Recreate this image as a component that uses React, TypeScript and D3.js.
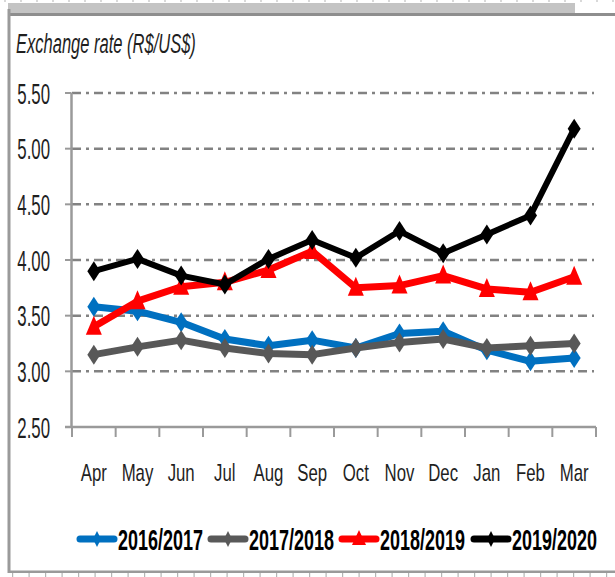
import React from 'react';
import * as d3 from 'd3';

const months = ['Apr', 'May', 'Jun', 'Jul', 'Aug', 'Sep', 'Oct', 'Nov', 'Dec', 'Jan', 'Feb', 'Mar'];
const yTicks = [2.5, 3.0, 3.5, 4.0, 4.5, 5.0, 5.5];

const rate1617 = [3.58, 3.54, 3.44, 3.29, 3.23, 3.28, 3.21, 3.34, 3.36, 3.19, 3.09, 3.12];
const rate1718 = [3.15, 3.22, 3.28, 3.21, 3.16, 3.15, 3.21, 3.26, 3.29, 3.21, 3.23, 3.25];
const rate1819 = [3.40, 3.63, 3.76, 3.80, 3.91, 4.08, 3.75, 3.77, 3.86, 3.74, 3.71, 3.85];
const rate1920 = [3.90, 4.01, 3.86, 3.78, 4.01, 4.18, 4.02, 4.26, 4.06, 4.23, 4.40, 5.18];

const series = [
  { name: '2016/2017', values: rate1617, color: '#0070C0', marker: 'diamond', width: 7 },
  { name: '2017/2018', values: rate1718, color: '#595959', marker: 'diamond', width: 7 },
  { name: '2018/2019', values: rate1819, color: '#FF0000', marker: 'triangle', width: 7 },
  { name: '2019/2020', values: rate1920, color: '#000000', marker: 'diamond', width: 6 },
];

const W = 615;
const H = 577;
const FONT = '"Liberation Sans", Arial, sans-serif';

const markerPath = (kind: string, big = true) => {
  if (kind === 'triangle') return big ? 'M0,-11L8,8L-8,8Z' : 'M0,-9L7,6L-7,6Z';
  return big ? 'M0,-10L6.5,0L0,10L-6.5,0Z' : 'M0,-8L4,0L0,8L-4,0Z';
};

// squeezed text, the source image is horizontally compressed
const SText = ({ x, y, sx, anchor = 'start', size, weight = 'normal', italic = false, fill = '#1f1f1f', children }: any) => (
  <text
    transform={`translate(${x},${y}) scale(${sx},1)`}
    textAnchor={anchor}
    fontFamily={FONT}
    fontSize={size}
    fontWeight={weight}
    fontStyle={italic ? 'italic' : 'normal'}
    fill={fill}
  >
    {children}
  </text>
);

export default function App() {
  const x = d3.scaleBand<string>().domain(months).range([72, 596]).padding(0);
  const y = d3.scaleLinear().domain([2.5, 5.5]).range([427, 93]);
  const cx = (m: string) => (x(m) as number) + x.bandwidth() / 2;

  const line = d3
    .line<number>()
    .x((_, i) => cx(months[i]))
    .y((d) => y(d));

  const boundaries = d3.range(months.length + 1).map((k) => 72 + k * x.bandwidth());

  const legendItems = [
    { lx: 77, tx: 118 },
    { lx: 208, tx: 249 },
    { lx: 339, tx: 380 },
    { lx: 471, tx: 512 },
  ];

  return (
    <div style={{ position: 'absolute', left: 0, top: 0 }}>
      <svg width={W} height={H} style={{ display: 'block', background: '#fff' }}>
        <defs>
          <filter id="soft" x="-5%" y="-5%" width="110%" height="110%">
            <feGaussianBlur stdDeviation="0.5" />
          </filter>
        </defs>

        {/* window frame */}
        {d3.range(0, W, 16).map((d) => (
          <rect key={'td' + d} x={d + 4} y={0} width={2} height={2} fill="#d9d9d9" />
        ))}
        <rect x={8} y={3} width={567} height={10} fill="#c4c4c4" />
        <rect x={8} y={13} width={W - 8} height={3} fill="#8e8e8e" />
        <rect x={7.5} y={9} width={3} height={564} fill="#9a9a9a" />
        <rect x={8} y={570.5} width={W - 8} height={2.5} fill="#9a9a9a" />
        {d3.range(12, W, 16.5).map((d) => (
          <rect key={'bd' + d} x={d} y={573} width={1.2} height={4} fill="#b5b5b5" />
        ))}

        {/* title */}
        <SText x={16} y={53} sx={0.59} size={28} italic>
          Exchange rate (R$/US$)
        </SText>

        {/* gridlines */}
        {yTicks.slice(1).map((t) => (
          <line
            key={'g' + t}
            x1={72}
            x2={594}
            y1={y(t)}
            y2={y(t)}
            stroke="#828282"
            strokeWidth={2.5}
            strokeDasharray="9,5,3,5"
          />
        ))}

        {/* axes */}
        <line x1={71.5} x2={71.5} y1={y(5.5)} y2={y(2.5)} stroke="#9a9a9a" strokeWidth={2.5} />
        <line x1={65} x2={596} y1={y(2.5)} y2={y(2.5)} stroke="#9a9a9a" strokeWidth={2.5} />
        {yTicks.map((t) => (
          <line key={'yt' + t} x1={65} x2={71.5} y1={y(t)} y2={y(t)} stroke="#9a9a9a" strokeWidth={2} />
        ))}
        {boundaries.map((b, i) => (
          <line key={'xt' + i} x1={b} x2={b} y1={y(2.5)} y2={y(2.5) + 10} stroke="#9a9a9a" strokeWidth={2} />
        ))}

        {/* y tick labels */}
        {yTicks.map((t) => (
          <SText key={'yl' + t} x={50} y={y(t) + 10.5} sx={0.58} size={29} anchor="end">
            {t.toFixed(2)}
          </SText>
        ))}

        {/* month labels */}
        {months.map((m) => (
          <SText key={m} x={cx(m)} y={481} sx={0.7} size={24} anchor="middle">
            {m}
          </SText>
        ))}

        {/* series */}
        <g filter="url(#soft)">
          {series.map((s) => (
            <g key={s.name}>
              <path
                d={line(s.values) as string}
                fill="none"
                stroke={s.color}
                strokeWidth={s.width}
                strokeLinejoin="round"
              />
              {s.values.map((v, i) => (
                <path
                  key={i}
                  transform={`translate(${cx(months[i])},${y(v)})`}
                  d={markerPath(s.marker, true)}
                  fill={s.color}
                />
              ))}
            </g>
          ))}
        </g>

        {/* legend */}
        {series.map((s, i) => {
          const it = legendItems[i];
          return (
            <g key={'lg' + s.name}>
              <line
                x1={it.lx + 3}
                x2={it.lx + 37}
                y1={539}
                y2={539}
                stroke={s.color}
                strokeWidth={7}
                strokeLinecap="round"
              />
              <path transform={`translate(${it.lx + 20},${539})`} d={markerPath(s.marker, false)} fill={s.color} />
              <SText x={it.tx} y={550} sx={0.62} size={29} weight="bold" fill="#000">
                {s.name}
              </SText>
            </g>
          );
        })}
      </svg>
    </div>
  );
}
